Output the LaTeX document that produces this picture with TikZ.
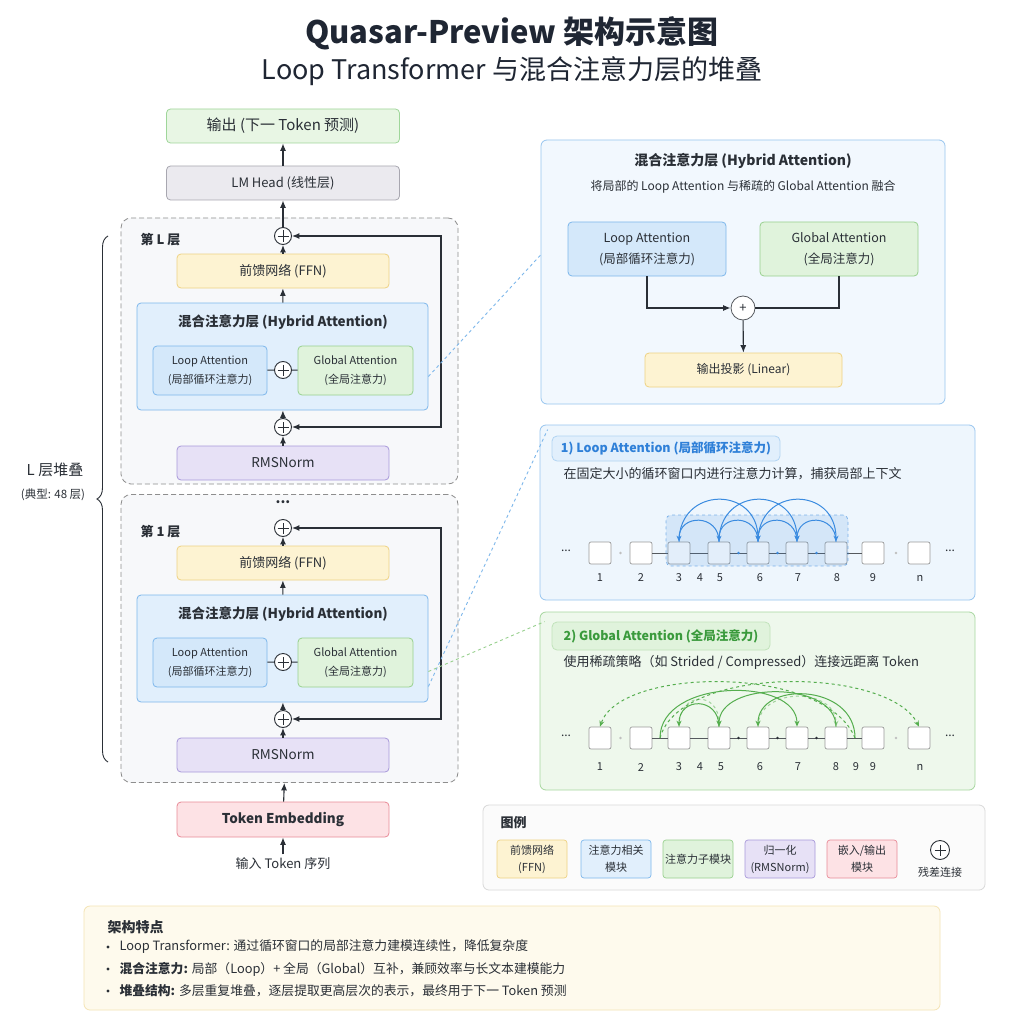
\documentclass[tikz,border=0pt]{standalone}
\usepackage{fontspec}
\setmainfont{Noto Sans CJK SC}
\usetikzlibrary{arrows.meta,positioning,decorations.pathreplacing}

\definecolor{ink}{HTML}{1F2633}
\definecolor{txt}{HTML}{2A2F36}
\definecolor{ffnF}{HTML}{FDF3D2}
\definecolor{ffnD}{HTML}{EED283}
\definecolor{attF}{HTML}{E1EFFC}
\definecolor{attD}{HTML}{7DB7EB}
\definecolor{loopF}{HTML}{D4E8FA}
\definecolor{glbF}{HTML}{E0F3DC}
\definecolor{glbD}{HTML}{98D08E}
\definecolor{nrmF}{HTML}{E7E1F6}
\definecolor{nrmD}{HTML}{A898DA}
\definecolor{embF}{HTML}{FDE2E5}
\definecolor{embD}{HTML}{E98B98}
\definecolor{outF}{HTML}{E8F6E4}
\definecolor{outD}{HTML}{9FD69A}
\definecolor{hdF}{HTML}{EBEAEF}
\definecolor{hdD}{HTML}{A8A7B0}
\definecolor{lyrF}{HTML}{F7F8FA}
\definecolor{lyrD}{HTML}{8E8E8E}
\definecolor{loopT}{HTML}{2F80D8}
\definecolor{glbT}{HTML}{3A9A3C}
\definecolor{arcB}{HTML}{3A8BE0}
\definecolor{arcG}{HTML}{55AE4E}

\newcommand{\sz}[1]{\fontsize{#1}{\dimexpr #1pt*13/10\relax}\selectfont}

\tikzset{
  blk/.style={draw, rounded corners=4pt, align=center, text=txt, line width=0.8pt, inner sep=0pt},
  lyr/.style={draw=lyrD, fill=lyrF, dashed, dash pattern=on 5pt off 3pt, rounded corners=10pt, line width=0.8pt},
  panel/.style={draw, rounded corners=6pt, line width=0.8pt, inner sep=0pt},
  resp/.style={circle, draw=txt, fill=white, line width=0.9pt, minimum size=17pt, inner sep=0pt,
    path picture={\draw[line width=0.9pt] ([xshift=-5.5pt]path picture bounding box.center) -- ([xshift=5.5pt]path picture bounding box.center);
      \draw[line width=0.9pt] ([yshift=-5.5pt]path picture bounding box.center) -- ([yshift=5.5pt]path picture bounding box.center);}},
  flow/.style={draw=txt, line width=1.1pt, -{Latex[length=7.5pt,width=6pt]}},
  tok/.style={draw=gray!80, fill=white, rounded corners=2pt, minimum size=22pt, inner sep=0pt, line width=0.7pt},
  tokline/.style={draw=txt!80, line width=0.7pt},
  dot/.style={circle, fill=txt, inner sep=0pt, minimum size=2.6pt},
  arcb/.style={draw=arcB, line width=1pt, -{Stealth[length=6pt,width=5pt]}},
  arcg/.style={draw=arcG, line width=1pt, -{Stealth[length=6pt,width=5pt]}},
  leg/.style={draw, rounded corners=3pt, minimum width=70pt, minimum height=38pt, align=center, text=txt,
    font=\fontsize{11}{17}\selectfont, line width=0.7pt, inner sep=0pt},
}

\begin{document}
\begin{tikzpicture}[x=1pt,y=-1pt]
\useasboundingbox (0,0) rectangle (1024,1024);
\fill[white] (0,0) rectangle (1024,1024);

% title
\node[font=\bfseries\sz{31}, text=ink] (title) at (512,33) {Quasar-Preview 架构示意图};
\node[font=\sz{27}, text=ink] (subtitle) at (512,71) {Loop Transformer 与混合注意力层的堆叠};

% stacked layers (left)
\node[lyr, minimum width=337, minimum height=266] (layL) at (289.5,351) {};
\node[lyr, minimum width=337, minimum height=288] (lay1) at (289.5,638.5) {};
\node[font=\bfseries\sz{14}, text=txt] (dots) at (283,502) {...};

\node[blk, fill=outF, draw=outD, minimum width=233, minimum height=34, font=\sz{15}] (outN) at (283,126) {输出 (下一 Token 预测)};
\node[blk, fill=hdF, draw=hdD, minimum width=233, minimum height=34, font=\sz{13}] (head) at (283,183) {LM Head (线性层)};
\coordinate (rx) at (441,0);

\foreach \k/\dy/\lbl in {L/0/第 L 层, 1/292/第 1 层}{
  \node[font=\bfseries\sz{13}, text=txt, anchor=west] (tag\k) at (137,{240+\dy}) {\lbl};
  \node[resp] (pt\k) at (283,{236+\dy}) {};
  \node[blk, fill=ffnF, draw=ffnD, minimum width=212, minimum height=34, font=\sz{13}] (ffn\k) at (283,{271+\dy}) {前馈网络 (FFN)};
  \node[blk, fill=attF, draw=attD, minimum width=291, minimum height=107] (hy\k) at (282.5,{356.5+\dy}) {};
  \node[font=\bfseries\sz{13.5}, text=txt] (hyt\k) at (283,{322+\dy}) {混合注意力层 (Hybrid Attention)};
  \node[blk, fill=loopF, draw=attD, minimum width=114, minimum height=49, font=\fontsize{11}{19}\selectfont] (lo\k) at (210,{370.5+\dy}) {Loop Attention\\(局部循环注意力)};
  \node[resp] (pm\k) at (283,{370+\dy}) {};
  \node[blk, fill=glbF, draw=glbD, minimum width=115, minimum height=49, font=\fontsize{11}{19}\selectfont] (gl\k) at (355.5,{370.5+\dy}) {Global Attention\\(全局注意力)};
  \node[resp] (pb\k) at (283,{427+\dy}) {};
  \node[blk, fill=nrmF, draw=nrmD, minimum width=212, minimum height=34, font=\sz{13.5}] (nrm\k) at (283,{463+\dy}) {RMSNorm};
  \draw[txt, line width=0.9pt] (lo\k) -- (pm\k) -- (gl\k);
  \draw[flow] (nrm\k) -- (pb\k);
  \draw[flow] (pb\k) -- (hy\k);
  \draw[flow] (hy\k) -- (ffn\k);
  \draw[flow] (ffn\k) -- (pt\k);
  \draw[flow, {Latex[length=7.5pt,width=6pt]}-{Latex[length=7.5pt,width=6pt]}] (pt\k) -- (pt\k -| rx) -- (pb\k -| rx) -- (pb\k);
}
\draw[flow] (ptL) -- (head);
\draw[flow] (head) -- (outN);

\node[blk, fill=embF, draw=embD, minimum width=212, minimum height=35, font=\bfseries\sz{13.5}] (emb) at (283,819.5) {Token Embedding};
\node[font=\sz{13}, text=txt] (inTxt) at (283,864) {输入 Token 序列};
\draw[flow] (emb) -- (lay1);
\draw[flow] (inTxt) -- (emb);

% brace
\draw[txt, line width=0.9pt, decorate, decoration={brace, amplitude=11pt}] (108,762) -- (108,236);
\node[font=\sz{15}, text=txt] (stackTxt) at (55,470) {L 层堆叠};
\node[font=\sz{11.5}, text=txt] (stackSub) at (53,495) {(典型: 48 层)};

% hybrid attention panel
\node[panel, fill=attF!45, draw=attD!80, minimum width=404, minimum height=264] (hp) at (743,272) {};
\node[font=\bfseries\sz{14}, text=txt] (hpT) at (743,161) {混合注意力层 (Hybrid Attention)};
\node[font=\sz{12}, text=txt] (hpS) at (743,187) {将局部的 Loop Attention 与稀疏的 Global Attention 融合};
\node[blk, fill=loopF, draw=attD, minimum width=158, minimum height=54, font=\fontsize{12.5}{21}\selectfont] (hpLo) at (647,249) {Loop Attention\\(局部循环注意力)};
\node[blk, fill=glbF, draw=glbD, minimum width=158, minimum height=54, font=\fontsize{12.5}{21}\selectfont] (hpG) at (839,249) {Global Attention\\(全局注意力)};
\node[circle, draw=txt!80, fill=white, minimum size=24pt, inner sep=0pt, line width=0.8pt, font=\sz{13}, text=txt] (hpP) at (743,308) {+};
\node[blk, fill=ffnF, draw=ffnD, minimum width=197, minimum height=34, font=\sz{12}] (hpO) at (743.5,370) {输出投影 (Linear)};
\draw[flow] (hpLo) |- (hpP);
\draw[txt, line width=1.1pt] (hpG) |- (hpP);
\draw[flow] (hpP) -- (hpO);

% loop attention panel
\node[panel, fill=attF!55, draw=attD!80, minimum width=435, minimum height=175] (lp) at (757.5,512.5) {};
\node[panel, fill=attF, draw=attD!60, rounded corners=5pt, minimum width=228, minimum height=25, font=\bfseries\sz{12.5}, text=loopT] (lpTag) at (666,448.5) {1) Loop Attention (局部循环注意力)};
\node[font=\sz{13}, text=txt, anchor=west] (lpDesc) at (560,474) {在固定大小的循环窗口内进行注意力计算，捕获局部上下文};

\foreach \n/\x in {1/600,2/641,3/679,4/719,5/758,6/797,7/836,8/873,9/919}
  \node[tok] (l\n) at (\x,553) {};
\foreach \a/\b in {2/3,3/4,4/5,5/6,6/7,7/8}
  \draw[tokline] (l\a) -- (l\b);
\foreach \a/\b in {4/5,5/6,6/7}
  \path (l\a) -- (l\b) node[midway, dot, fill=arcB] {};
\path (l1) -- (l2) node[midway, dot, fill=gray!50] {};
\path (l8) -- (l9) node[midway, dot, fill=gray!50] {};
\node[font=\sz{12}, text=txt] (lpL) at (566,551) {...};
\node[font=\sz{12}, text=txt] (lpR) at (950,551) {...};
\foreach \t/\x in {1/600,2/641,3/679,4/700,5/720,6/760,7/798,8/837,9/873,n/920}
  \node[font=\sz{11}, text=txt] at (\x,578) {\t};

\node[draw=arcB, draw opacity=0.6, dashed, fill=arcB, fill opacity=0.14, rounded corners=5pt,
  minimum width=182, minimum height=51, line width=0.8pt] (win) at (757,540.5) {};
\foreach \a/\b in {4/3,5/4,6/5,7/6}
  \draw[arcb] (l\a.north) .. controls +(0,-28) and +(0,-28) .. (l\b.north);
\foreach \a/\b in {3/5,4/6,5/7}
  \draw[arcb] (l\a.north) .. controls +(0,-56) and +(0,-56) .. (l\b.north);

% global attention panel
\node[panel, fill=glbF!55, draw=glbD!85, minimum width=435, minimum height=178] (gp) at (757.5,701) {};
\node[panel, fill=glbF, draw=glbD!60, rounded corners=5pt, minimum width=218, minimum height=28, font=\bfseries\sz{12.5}, text=glbT] (gpTag) at (661,636) {2) Global Attention (全局注意力)};
\node[font=\sz{13}, text=txt, anchor=west] (gpDesc) at (560,662) {使用稀疏策略（如 Strided / Compressed）连接远距离 Token};

\foreach \n/\x in {1/600,2/641,3/679,4/719,5/758,6/797,7/836,8/873,9/919}
  \node[tok] (g\n) at (\x,738) {};
\foreach \a/\b in {2/3,3/4,4/5,5/6,6/7,7/8}
  \draw[tokline] (g\a) -- (g\b);
\foreach \a/\b in {4/5,5/6,6/7}
  \path (g\a) -- (g\b) node[midway, dot] {};
\path (g1) -- (g2) node[midway, dot, fill=gray!50] {};
\path (g8) -- (g9) node[midway, dot, fill=gray!50] {};
\coordinate (gj1) at (660,738);
\coordinate (gj2) at (855,738);
\node[font=\sz{12}, text=txt] (gpL) at (566,736) {...};
\node[font=\sz{12}, text=txt] (gpR) at (950,736) {...};
\foreach \t/\x in {1/600,2/641,3/679,4/700,5/721,6/760,7/798,8/836,9/856,9/873,n/920}
  \node[font=\sz{11}, text=txt] at (\x,767) {\t};

\draw[arcg, dashed] (gj2) .. controls +(-30,-74) and +(20,-60) .. (g1.north);
\draw[arcg, dashed] (gj1) .. controls +(20,-74) and +(-30,-60) .. (g9.north);
\draw[arcg] (g4.north) .. controls +(0,-30) and +(0,-30) .. (g3.north);
\draw[arcg] (gj1) .. controls +(0,-60) and +(0,-50) .. (g6.north);
\draw[arcg] (g7.north) .. controls +(0,-46) and +(0,-46) .. (g4.north);
\draw[arcg] (gj2) .. controls +(0,-55) and +(0,-46) .. (g5.north);
\draw[arcg, dashed, opacity=0.5] (g3.north) .. controls +(0,-36) and +(0,-36) .. (g4.north);
\draw[arcg, dashed, opacity=0.5] (g5.north) .. controls +(0,-40) and +(0,-40) .. (g7.north);

% connectors to detail panels
\draw[attD, dashed, line width=0.9pt] ([yshift=-20pt]hyL.east) -- ([yshift=17pt]hp.west);
\draw[attD, dashed, line width=0.9pt] ([yshift=-38pt]hy1.east) -- ([xshift=8pt,yshift=-5pt]lp.north west);
\draw[glbD, dashed, line width=0.9pt] ([yshift=-23pt]hy1.east) -- ([xshift=5pt,yshift=-10pt]gp.north west);

% legend
\node[panel, fill=gray!3, draw=gray!30, minimum width=502, minimum height=85] (legBox) at (734,847.5) {};
\node[font=\bfseries\sz{13}, text=txt, anchor=west] (legT) at (497,823) {图例};
\node[leg, fill=ffnF, draw=ffnD] (legF) at (532,859) {前馈网络\\(FFN)};
\node[leg, fill=attF, draw=attD] (legA) at (616,859) {注意力相关\\模块};
\node[leg, fill=glbF, draw=glbD] (legG) at (698,859) {注意力子模块};
\node[leg, fill=nrmF, draw=nrmD] (legN) at (780,859) {归一化\\(RMSNorm)};
\node[leg, fill=embF, draw=embD] (legE) at (862,859) {嵌入/输出\\模块};
\node[resp, minimum size=19pt] (legP) at (940,850) {};
\node[font=\sz{11}, text=txt] (legPT) at (940,872) {残差连接};

% features
\node[panel, fill=ffnF!40, draw=ffnD!60, minimum width=856, minimum height=104] (feat) at (512,958) {};
\node[font=\bfseries\sz{14}, text=txt, anchor=west] (featT) at (104,927) {架构特点};
\foreach \y in {947,969,991}
  \fill[txt] (108,\y) circle (1.7);
\node[font=\sz{12.8}, text=txt, anchor=west] (f1) at (116,947) {Loop Transformer: 通过循环窗口的局部注意力建模连续性，降低复杂度};
\node[font=\sz{12.8}, text=txt, anchor=west] (f2) at (116,969) {\textbf{混合注意力:} 局部（Loop）+ 全局（Global）互补，兼顾效率与长文本建模能力};
\node[font=\sz{12.8}, text=txt, anchor=west] (f3) at (116,991) {\textbf{堆叠结构:} 多层重复堆叠，逐层提取更高层次的表示，最终用于下一 Token 预测};
\end{tikzpicture}
\end{document}
